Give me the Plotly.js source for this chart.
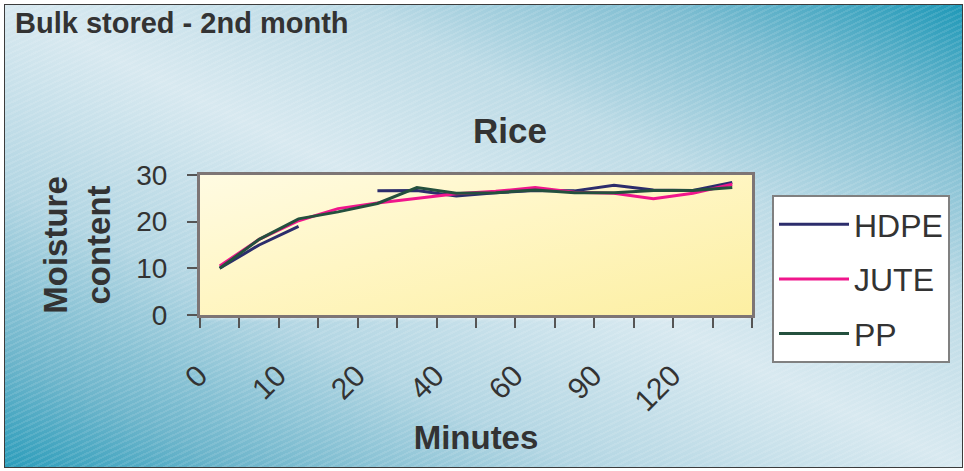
<!DOCTYPE html>
<html>
<head>
<meta charset="utf-8">
<script src="https://cdn.plot.ly/plotly-3.0.1.min.js"></script>
<style>
  html, body { margin: 0; padding: 0; background: #ffffff; }
  #wrap { position: relative; width: 964px; height: 471px; overflow: hidden; }
  #bg {
    position: absolute; left: 4px; top: 4px; width: 957px; height: 462px;
    border: 1.5px solid #3c3c3c;
    background:
      repeating-linear-gradient(155deg, rgba(255,255,255,0.10) 0px, rgba(255,255,255,0.10) 2px, rgba(255,255,255,0) 2px, rgba(255,255,255,0) 5px),
      linear-gradient(to top right, #2c9dbb 0%, #6db5cb 12%, #b3d6e3 30%, #d8e9f0 50%, #bddbe6 68%, #80bed2 84%, #1f99b8 100%);
  }
  #plotbg {
    position: absolute; left: 200px; top: 175px; width: 552px; height: 140px;
    background: linear-gradient(to bottom right, #fffbe2 0%, #fff6c4 45%, #fcefa2 100%);
    box-shadow: 0 6px 4px -3px rgba(255,255,255,0.8);
  }
  #chart { position: absolute; left: 0; top: 0; width: 964px; height: 471px; }
</style>
</head>
<body>
<div id="wrap">
  <div id="bg"></div>
  <div id="plotbg"></div>
  <div id="chart"></div>
</div>
<script>
// Categories (minutes). Only every second one is labelled in the reference.
var categories = ["0","5","10","15","20","30","40","50","60","75","90","105","120","135"];
var tickLabels = ["0","","10","","20","","40","","60","","90","","120",""];

var seriesNames = ["HDPE", "JUTE", "PP"];
var hdpe = [10.0, 15.0, 19.0, null, 26.6, 26.7, 25.5, 26.2, 26.7, 26.6, 27.8, 26.8, 26.7, 28.4];
var jute = [10.5, 16.2, 20.2, 22.8, 24.0, 25.0, 26.0, 26.5, 27.3, 26.3, 26.1, 24.9, 26.1, 28.0];
var pp   = [10.0, 16.2, 20.6, 22.1, 23.9, 27.3, 26.1, 26.2, 26.8, 26.2, 26.2, 26.7, 26.7, 27.3];

var colors = ["#2c2d6c", "#f0168c", "#24503e"];
var values = [hdpe, jute, pp];

var traces = values.map(function (v, i) {
  return {
    type: "scatter",
    mode: "lines",
    name: seriesNames[i],
    legendgroup: seriesNames[i],
    x: categories,
    y: v,
    connectgaps: false,
    line: { color: colors[i], width: 3 }
  };
});

var font = "Liberation Sans, Arial, sans-serif";

var layout = {
  width: 964,
  height: 471,
  margin: { l: 200, r: 212, t: 175, b: 156, pad: 0 },
  paper_bgcolor: "rgba(0,0,0,0)",
  plot_bgcolor: "rgba(0,0,0,0)",
  font: { family: font, color: "#333333", size: 28 },
  title: {
    text: "<b>Rice</b>",
    font: { family: font, size: 35, color: "#333333" },
    xref: "container", yref: "container",
    x: 0.529, y: 1 - 131 / 471, xanchor: "center", yanchor: "middle"
  },
  xaxis: {
    type: "category",
    categoryorder: "array",
    categoryarray: categories,
    range: [-0.5, categories.length - 0.5],
    tickmode: "array",
    tickvals: categories,
    ticktext: tickLabels,
    tickson: "boundaries",
    ticks: "outside",
    ticklen: 10,
    tickwidth: 2,
    tickcolor: "#555555",
    tickangle: -45,
    ticklabelshift: -21,
    ticklabelstandoff: 28,
    tickfont: { family: font, size: 30, color: "#333333" },
    showgrid: false,
    showline: true,
    linecolor: "#7d7575",
    linewidth: 3,
    mirror: true,
    zeroline: false,
    automargin: false,
    title: {
      text: "<b>Minutes</b>",
      font: { family: font, size: 33, color: "#333333" },
      standoff: 10
    }
  },
  yaxis: {
    range: [0, 30],
    tickmode: "linear",
    tick0: 0,
    dtick: 10,
    ticks: "outside",
    ticklen: 10,
    tickwidth: 2,
    tickcolor: "#555555",
    ticklabelstandoff: 14,
    tickfont: { family: font, size: 28, color: "#333333" },
    showgrid: false,
    showline: true,
    linecolor: "#7d7575",
    linewidth: 3,
    mirror: true,
    zeroline: false,
    automargin: false,
    title: {
      text: "<b>Moisture<br>content</b>",
      font: { family: font, size: 33, color: "#333333" },
      standoff: 16
    }
  },
  showlegend: true,
  legend: {
    x: (772 - 200) / 552,
    y: (315 - 195) / 140,
    xanchor: "left",
    yanchor: "top",
    bgcolor: "#ffffff",
    bordercolor: "#808080",
    borderwidth: 2,
    font: { family: font, size: 32, color: "#333333" },
    tracegroupgap: 10,
    itemwidth: 70,
    maxheight: 400
  },
  annotations: [{
    text: "<b>Bulk stored - 2nd month</b>",
    xref: "paper", yref: "paper",
    x: (13 - 200) / 552,
    y: (315 - 23) / 140,
    xanchor: "left", yanchor: "middle",
    showarrow: false,
    font: { family: font, size: 29, color: "#333333" }
  }]
};

Plotly.newPlot("chart", traces, layout, { displayModeBar: false, staticPlot: true });
</script>
</body>
</html>
